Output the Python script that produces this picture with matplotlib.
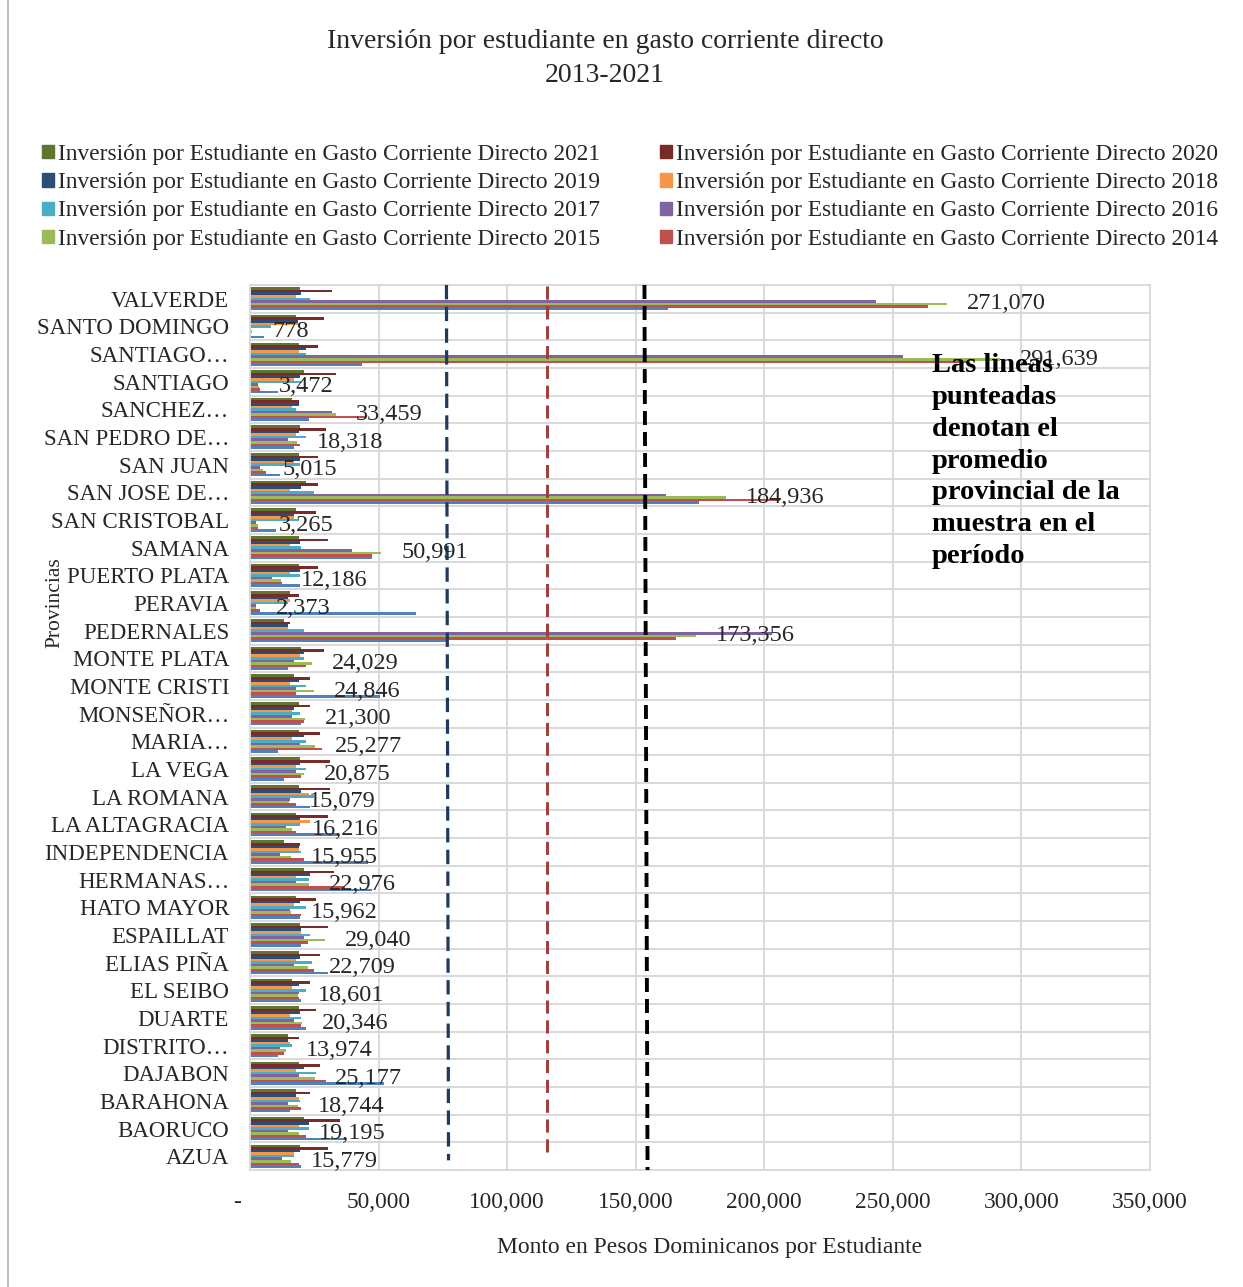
import numpy as np
import matplotlib.pyplot as plt
from matplotlib.ticker import FuncFormatter, MultipleLocator
from matplotlib.patches import Patch
from matplotlib.lines import Line2D

plt.rcParams['font.family'] = ['Liberation Serif', 'DejaVu Serif']

# provincias, de abajo (AZUA) hacia arriba (VALVERDE)
provincias = ['AZUA', 'BAORUCO', 'BARAHONA', 'DAJABON', 'DISTRITO…', 'DUARTE', 'EL SEIBO',
              'ELIAS PIÑA', 'ESPAILLAT', 'HATO MAYOR', 'HERMANAS…', 'INDEPENDENCIA',
              'LA ALTAGRACIA', 'LA ROMANA', 'LA VEGA', 'MARIA…', 'MONSEÑOR…', 'MONTE CRISTI',
              'MONTE PLATA', 'PEDERNALES', 'PERAVIA', 'PUERTO PLATA', 'SAMANA', 'SAN CRISTOBAL',
              'SAN JOSE DE…', 'SAN JUAN', 'SAN PEDRO DE…', 'SANCHEZ…', 'SANTIAGO', 'SANTIAGO…',
              'SANTO DOMINGO', 'VALVERDE']

inv_2021 = [19500, 21000, 18000, 18900, 14700, 18900, 16300, 18900, 19500, 18000, 21000, 13300,
            18000, 18900, 19500, 18900, 18900, 17200, 20000, 13400, 15600, 18900, 18900, 18000,
            21800, 18900, 19500, 16300, 21000, 18900, 18000, 19500]
inv_2020 = [30300, 35100, 23400, 27300, 18900, 25700, 23400, 27300, 30300, 25700, 32800, 19500,
            30300, 31200, 31200, 27300, 23400, 23400, 28900, 15600, 18900, 26400, 30300, 25700,
            26400, 26400, 29600, 18900, 33400, 26400, 28900, 32000]
inv_2019 = [19500, 22800, 18000, 21000, 14700, 19500, 18900, 19500, 20000, 19500, 23400, 18900,
            19500, 20000, 19500, 21000, 17200, 18900, 21000, 14700, 14700, 19500, 19500, 17000,
            20000, 19500, 18900, 18900, 19500, 21800, 18800, 20000]
inv_2018 = [17200, 18900, 18900, 18000, 15600, 15600, 16300, 18000, 20000, 17200, 18000, 18900,
            23400, 22800, 18000, 16300, 16300, 15600, 19500, 14700, 15600, 15600, 15600, 17000,
            15600, 17000, 18000, 16300, 17000, 18900, 18800, 18000]
inv_2017 = [17200, 22800, 19500, 25700, 16300, 20000, 21800, 24000, 23400, 21800, 22800, 20000,
            19500, 24700, 21800, 21800, 19500, 21800, 21000, 21000, 14700, 19500, 20000, 19000,
            25000, 19500, 21800, 18000, 20000, 21800, 8000, 23400]
inv_2016 = [12400, 14700, 14700, 18900, 11700, 17200, 18900, 17200, 21000, 15600, 18000, 11700,
            14000, 15600, 18000, 19500, 16300, 18000, 17200, 203000, 2200, 8500, 39600, 2200,
            161700, 3900, 14700, 32000, 3000, 254000, 500, 243400]
inv_2015 = [15779, 19195, 18744, 25177, 13974, 20346, 18601, 22709, 29040, 15962, 22976, 15955,
            16216, 15079, 20875, 25277, 21300, 24846, 24029, 173356, 2373, 12186, 50991, 3265,
            184936, 5015, 18318, 33459, 3472, 291639, 778, 271070]
inv_2014 = [18900, 21800, 20000, 29600, 13300, 20000, 18900, 25000, 22500, 20000, 37000, 21000,
            18000, 18000, 20000, 28000, 21000, 18000, 21800, 165500, 3900, 12400, 47400, 3000,
            206000, 6100, 19500, 44900, 3900, 280000, 500, 263700]
inv_2013 = [20000, 37000, 15600, 52000, 10800, 21800, 20000, 30300, 20000, 19500, 47400, 45900,
            34400, 23400, 13300, 10800, 20000, 50700, 14700, 76500, 64700, 19500, 47400, 10000,
            174700, 11700, 17200, 22800, 10800, 43500, 5500, 162500]

anios = ['2021', '2020', '2019', '2018', '2017', '2016', '2015', '2014', '2013']
series = [inv_2021, inv_2020, inv_2019, inv_2018, inv_2017, inv_2016, inv_2015, inv_2014, inv_2013]
colores = ['#5F7530', '#772C2A', '#2C4D75', '#F79646', '#4BACC6', '#8064A2', '#9BBB59',
           '#C0504D', '#4F81BD']

# promedios provinciales (lineas punteadas)
promedio_azul = 76800
promedio_rojo = 115500
promedio_negro = 154000

W, H = 1243, 1287
fig = plt.figure(figsize=(W / 100, H / 100), dpi=100)
ax = fig.add_axes([250 / W, 1 - 1170 / H, 900 / W, 885 / H])

y = np.arange(len(provincias))
alto_grupo = 0.84
alto_barra = alto_grupo / len(series)

for k, (vals, col, anio) in enumerate(zip(series, colores, anios)):
    pos = y + alto_grupo / 2 - (k + 0.5) * alto_barra
    ax.barh(pos, vals, height=alto_barra, color=col, zorder=2,
            label='Inversión por Estudiante en Gasto Corriente Directo ' + anio)
    if anio == '2015':
        for yi, v in zip(pos, vals):
            ax.annotate(f"{v:,.0f}", xy=(v, yi), xytext=(20, 0), textcoords='offset pixels',
                        va='center', ha='left', fontsize=17.5, color='#262626', zorder=6)

ax.set_xlim(0, 350000)
ax.set_ylim(-0.5, len(provincias) - 0.5)
ax.xaxis.set_major_locator(MultipleLocator(50000))
ax.xaxis.set_major_formatter(FuncFormatter(lambda v, p: '-    ' if v == 0 else f"{v:,.0f}"))
ax.set_yticks(y)
ax.set_yticklabels(provincias)
ax.set_yticks(np.arange(-0.5, len(provincias), 1), minor=True)
ax.tick_params(axis='both', which='both', length=0, colors='#262626')
ax.tick_params(axis='x', pad=16, labelsize=16.8)
ax.tick_params(axis='y', pad=15, labelsize=16.5)
ax.grid(axis='x', color='#D9D9D9', lw=1.4, zorder=0)
ax.grid(axis='y', which='minor', color='#D9D9D9', lw=1.4, zorder=0)
ax.set_axisbelow(True)
for s in ax.spines.values():
    s.set_color('#D9D9D9')
    s.set_linewidth(1.4)

# lineas punteadas dibujadas encima
ax.plot([promedio_azul - 400, promedio_azul + 400], [31.5, -0.15], color='#1F3A5F', lw=2.3,
        ls=(0, (4.5, 2.3)), zorder=5)
ax.plot([promedio_rojo, promedio_rojo], [31.45, 0.15], color='#A23B38', lw=2.1,
        ls=(0, (4.5, 2.3)), zorder=5)
ax.plot([promedio_negro - 600, promedio_negro + 600], [31.5, -0.5], color='black', lw=2.8,
        ls=(0, (3.6, 1.8)), zorder=5)

# leyenda en dos columnas
handles = [Patch(color=c) for c in colores[:8]]
etiquetas = ['Inversión por Estudiante en Gasto Corriente Directo ' + a for a in anios[:8]]
for col, x0 in [(0, 42), (1, 660)]:
    idx = [col, col + 2, col + 4, col + 6]
    fig.legend([handles[i] for i in idx], [etiquetas[i] for i in idx], loc='upper left',
               bbox_to_anchor=(x0 / W, 1 - 144 / H), frameon=False, fontsize=16.8,
               handlelength=0.5, handleheight=0.5, handletextpad=0.18, borderpad=0,
               borderaxespad=0, labelspacing=0.31, labelcolor='#262626')

fig.text(605 / W, 1 - 42 / H, 'Inversión por estudiante en gasto corriente directo',
         ha='center', va='center', fontsize=20, color='#262626')
fig.text(605 / W, 1 - 75 / H, '2013-2021', ha='center', va='center', fontsize=20,
         color='#262626')
fig.text(710 / W, 1 - 1247 / H, 'Monto en Pesos Dominicanos por Estudiante', ha='center',
         va='center', fontsize=17, color='#262626')
fig.text(55 / W, 1 - 603 / H, 'Provincias', rotation=90, ha='center', va='center',
         fontsize=15.5, color='#262626')
fig.text(932 / W, 1 - 353 / H,
         'Las lineas\npunteadas\ndenotan el\npromedio\nprovincial de la\nmuestra en el\nperíodo',
         ha='left', va='top', fontsize=20.5, fontweight='bold', linespacing=1.36, color='black')

fig.add_artist(Line2D([8 / W, 8 / W], [0, 1], color='#BFBFBF', lw=1.5))

fig.savefig('out.png', dpi=100)
